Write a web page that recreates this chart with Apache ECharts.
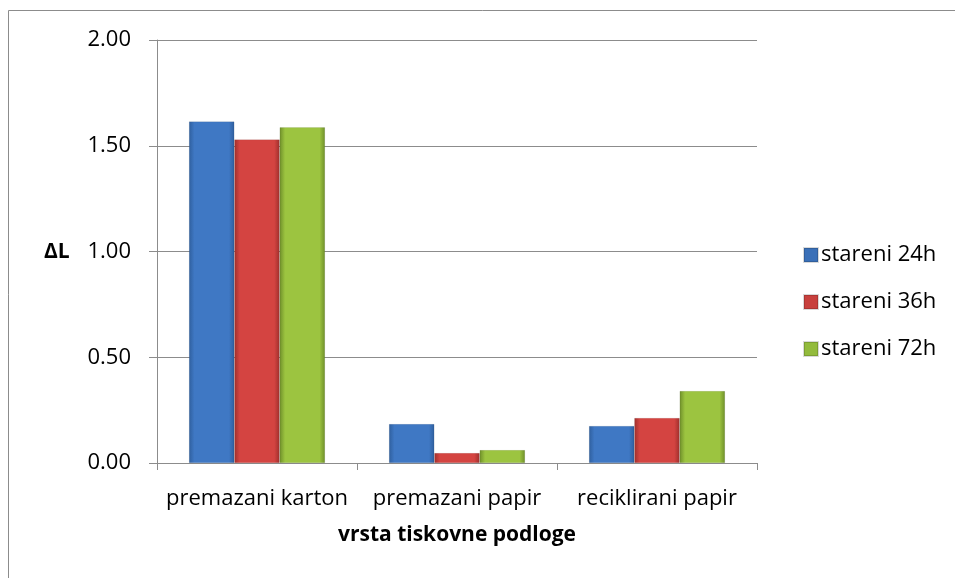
<!DOCTYPE html>
<html>
<head>
<meta charset="utf-8">
<script src="https://cdn.jsdelivr.net/npm/echarts@6/dist/echarts.min.js"></script>
<style>
  html, body { margin: 0; padding: 0; background: #fff; }
  #chart { width: 955px; height: 578px; }
</style>
</head>
<body>
<div id="chart"></div>
<script>
// categories and series
const categories = ["premazani karton", "premazani papir", "reciklirani papir"];
const seriesNames = ["stareni 24h", "stareni 36h", "stareni 72h"];
const stareni24 = [1.615, 0.184, 0.175];
const stareni36 = [1.530, 0.047, 0.213];
const stareni72 = [1.587, 0.061, 0.340];

const FONT = "Open Sans";

// bevel-ish look: darker edges, lighter middle
function barColor(edge, mid) {
  return new echarts.graphic.LinearGradient(0, 0, 1, 0, [
    { offset: 0, color: edge },
    { offset: 0.12, color: mid },
    { offset: 0.88, color: mid },
    { offset: 1, color: edge }
  ]);
}
const colors = [
  barColor("#2f5f9e", "#3f78c4"),
  barColor("#9e2f2c", "#d44441"),
  barColor("#6f8f2a", "#9cc440")
];
const legendColors = ["#3a70b8", "#c8403d", "#93bb3d"];

const chart = echarts.init(document.getElementById("chart"));
const option = {
  animation: false,
  backgroundColor: "#fff",
  textStyle: { fontFamily: FONT },
  graphic: [
    {
      type: "rect",
      shape: { x: 8.5, y: 10.5, width: 1000, height: 1000 },
      style: { fill: "none", stroke: "#8c8c8c", lineWidth: 1 }
    },
    {
      type: "text",
      x: 44, y: 252,
      style: { text: "ΔL", font: "bold 21px '" + FONT + "'", fill: "#000", verticalAlign: "middle" }
    }
  ],
  legend: {
    orient: "vertical",
    left: 798,
    top: 238,
    itemGap: 23,
    itemWidth: 14,
    itemHeight: 14,
    icon: "rect",
    textStyle: { fontSize: 22, lineHeight: 24, color: "#000", fontFamily: FONT, padding: [0, 0, 0, -2] },
    data: seriesNames.map((n, i) => ({ name: n, itemStyle: { color: legendColors[i] } }))
  },
  grid: { left: 157, right: 198, top: 40, bottom: 115, containLabel: false },
  xAxis: {
    type: "category",
    data: categories,
    name: "vrsta tiskovne podloge",
    nameLocation: "middle",
    nameGap: 62,
    nameTextStyle: { fontSize: 21, fontWeight: "bold", color: "#000", fontFamily: FONT },
    axisLine: { lineStyle: { color: "#8c8c8c", width: 1 } },
    axisTick: { show: true, length: 7, lineStyle: { color: "#8c8c8c" } },
    axisLabel: { interval: 0, hideOverlap: false, fontSize: 22, color: "#000", margin: 25, fontFamily: FONT }
  },
  yAxis: {
    type: "value",
    min: 0,
    max: 2,
    interval: 0.5,
    axisLine: { show: true, lineStyle: { color: "#8c8c8c" } },
    axisTick: { show: true, length: 8, lineStyle: { color: "#8c8c8c" } },
    splitLine: { lineStyle: { color: "#8c8c8c", width: 1 } },
    axisLabel: {
      fontSize: 22, color: "#000", margin: 26, fontFamily: FONT,
      formatter: v => v.toFixed(2)
    }
  },
  series: [stareni24, stareni36, stareni72].map((d, i) => ({
    name: seriesNames[i],
    type: "bar",
    data: d,
    barGap: "0%",
    barCategoryGap: "32%",
    itemStyle: { color: colors[i], borderColor: "rgba(0,0,0,0.15)", borderWidth: 0.5 }
  }))
};
chart.setOption(option);
</script>
</body>
</html>
